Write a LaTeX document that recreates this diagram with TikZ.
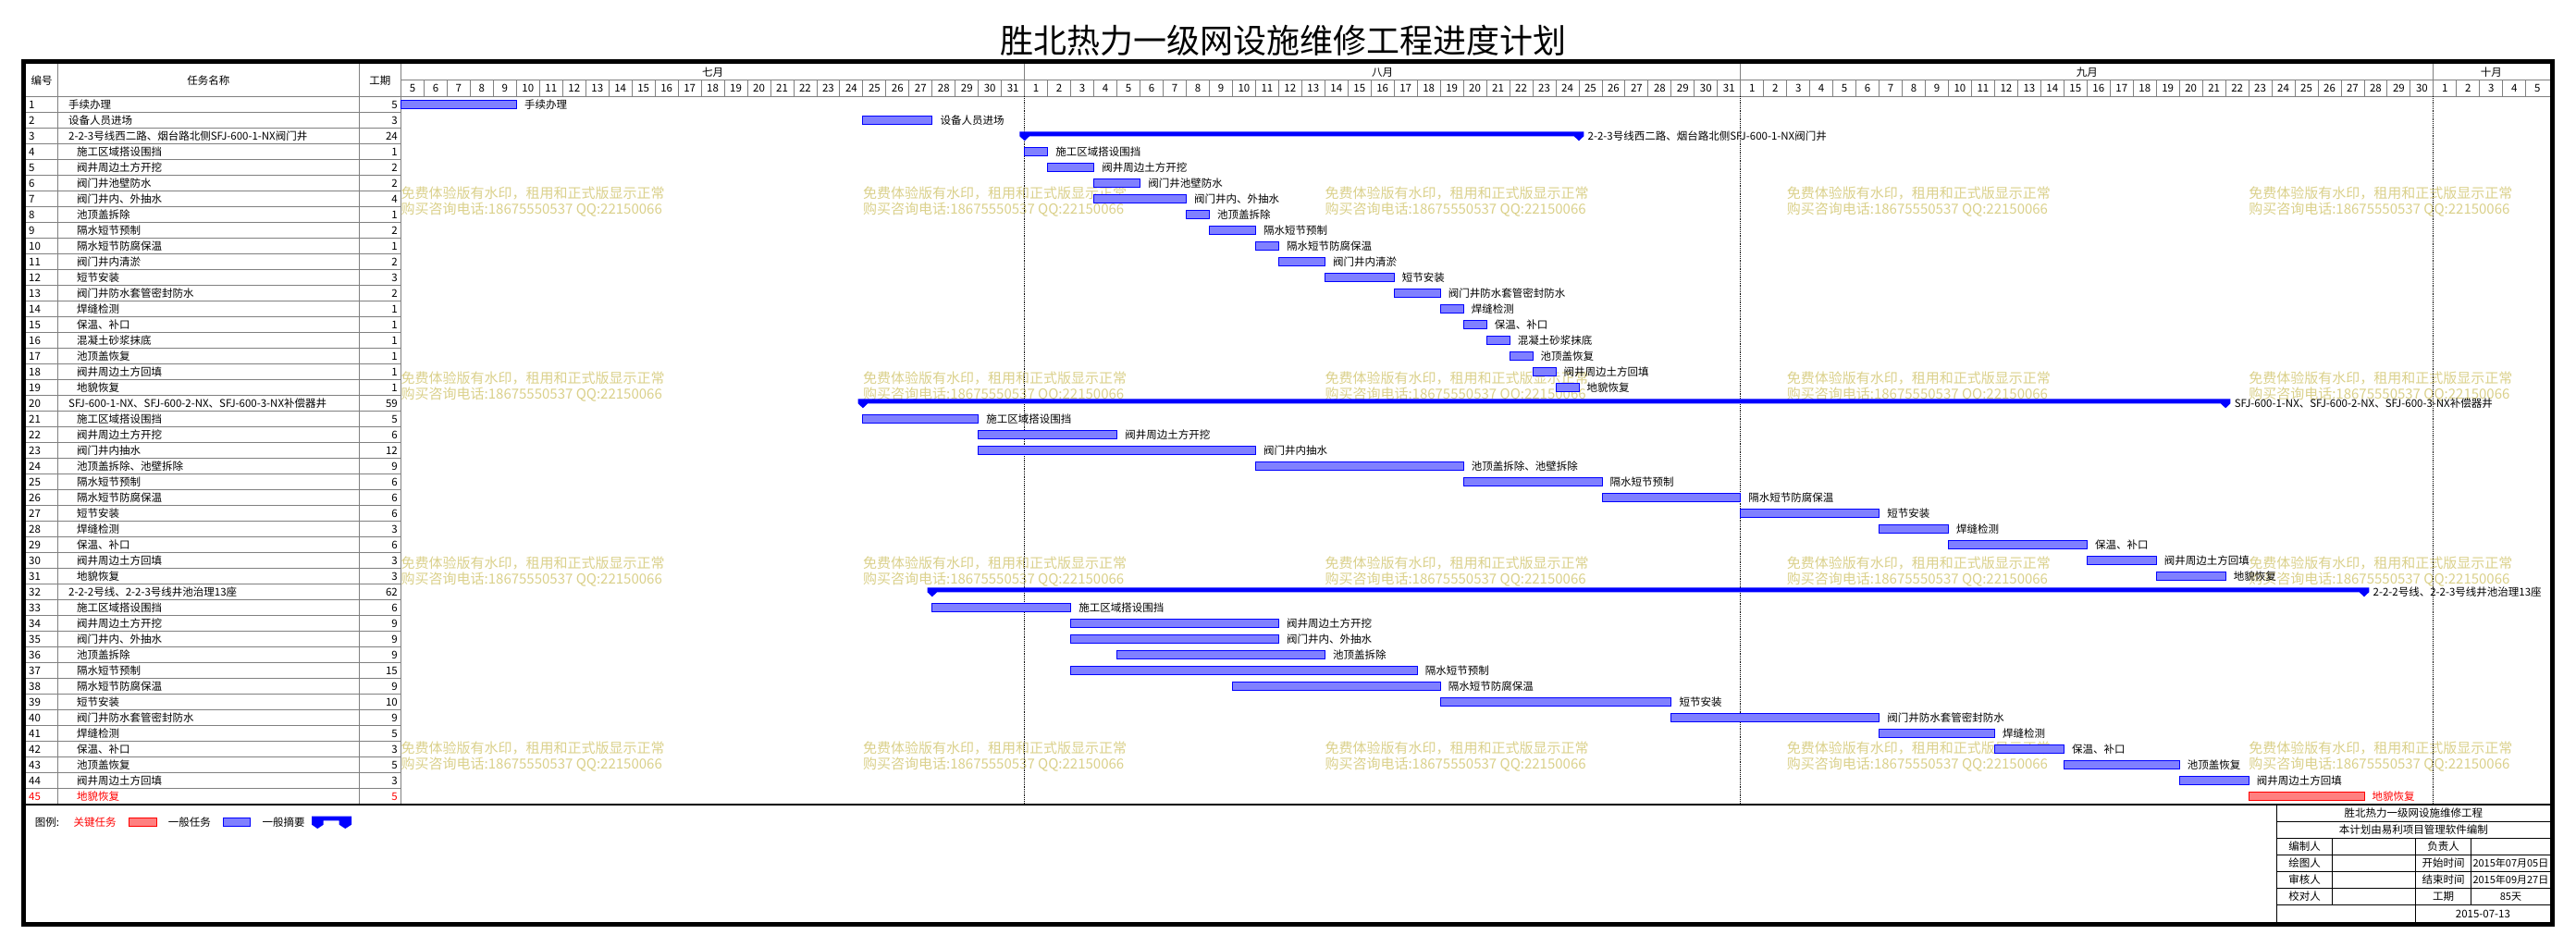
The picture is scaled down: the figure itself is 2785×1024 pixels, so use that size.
\documentclass[tikz,border=0pt]{standalone}
\usepackage{fontspec}
\setmainfont{Noto Sans CJK SC}

\definecolor{gridGray}{RGB}{128,128,128}
\definecolor{barBlue}{RGB}{128,128,255}
\definecolor{barRed}{RGB}{255,128,128}
\definecolor{markYellow}{RGB}{218,208,138}

\tikzset{
    txt/.style={inner sep=0pt, text height=9.5pt, text depth=0.8pt, font=\fontsize{11.5}{12}\selectfont},
    watermark/.style={inner sep=0pt, anchor=west, text height=12.5pt, text depth=1pt, text=markYellow, font=\fontsize{15}{16}\selectfont},
    gridline/.style={draw=gridGray, line width=0.9pt},
    taskbar/.style={draw=blue, fill=barBlue, line width=0.9pt},
    critbar/.style={draw=red, fill=barRed, line width=0.9pt},
    sumbar/.style={fill=blue},
    monthline/.style={draw=black, line width=0.8pt, densely dotted},
}

\begin{document}
\begin{tikzpicture}[x=1pt, y=-1pt]
    % Globals
    \pgfmathsetmacro{\xZero}{433.5}
    \pgfmathsetmacro{\dayW}{24.97}
    \pgfmathsetmacro{\yZero}{104.3}
    \pgfmathsetmacro{\rowH}{17}
    \pgfmathsetmacro{\yLegend}{869.8}
    \pgfmathsetmacro{\xRight}{2757}

    \useasboundingbox (0,0) rectangle (2785,1024);

    \coordinate (FRAME_NW) at (25.5,66.5);
    \coordinate (FRAME_SE) at (2759.5,999.3);

    \node[txt, text height=30pt, text depth=2.5pt, font=\fontsize{36}{40}\selectfont] (TITLE) at (1387,44) {胜北热力一级网设施维修工程进度计划};

    % watermarks
    \foreach \i in {0,...,4}{
        \foreach \j in {0,...,3}{
            \pgfmathsetmacro{\x}{\xZero+\i*499.4}
            \pgfmathsetmacro{\y}{208.3+\j*200}
            \node[watermark] (wmA\i\j) at (\x,\y) {免费体验版有水印，租用和正式版显示正常};
            \node[watermark] (wmB\i\j) at (\x,\y+17.4) {购买咨询电话:18675550537 QQ:22150066};
        }
    }

    % table grid
    \draw[gridline] (62.3,69) -- (62.3,\yLegend);
    \draw[gridline] (388.3,69) -- (388.3,\yLegend);
    \draw[gridline] (\xZero,69) -- (\xZero,\yLegend);
    \draw[gridline] (28,\yZero) -- (\xRight,\yZero);
    \draw[gridline] (\xZero,86.7) -- (\xRight,86.7);
    \foreach \r in {1,...,44}
        \draw[gridline] (28,\yZero+\r*\rowH) -- (\xZero,\yZero+\r*\rowH);

    \node[txt] (HEAD_NO) at (45.2,86.7) {编号};
    \node[txt] (HEAD_NAME) at (225.3,86.7) {任务名称};
    \node[txt] (HEAD_DUR) at (410.9,86.7) {工期};

    % days and months
    \foreach \k in {0,...,92}{
        \pgfmathtruncatemacro{\dd}{\k<27 ? \k+5 : (\k<58 ? \k-26 : (\k<88 ? \k-57 : \k-87))}
        \node[txt] (day\k) at (\xZero+\k*\dayW+0.5*\dayW,95.5) {\dd};
        \ifnum\k>0 \draw[gridline] (\xZero+\k*\dayW,86.7) -- (\xZero+\k*\dayW,\yZero); \fi
    }
    \foreach \k in {27,58,88}{
        \draw[gridline] (\xZero+\k*\dayW,69) -- (\xZero+\k*\dayW,86.7);
        \draw[monthline] (\xZero+\k*\dayW,\yZero) -- (\xZero+\k*\dayW,\yLegend);
    }
    \node[txt] (JUL) at (770.6,77.8) {七月};
    \node[txt] (AUG) at (1494.7,77.8) {八月};
    \node[txt] (SEP) at (2256.3,77.8) {九月};
    \node[txt] (OCT) at (2693.3,77.8) {十月};

    % tasks: number/name/duration/start/kind (0 sub, 1 top, 2 summary, 3 critical)
    \foreach \n/\name/\dur/\st/\kind in {
        1/手续办理/5/0/1,
        2/设备人员进场/3/20/1,
        3/2-2-3号线西二路、烟台路北侧SFJ-600-1-NX阀门井/24/27/2,
        4/施工区域搭设围挡/1/27/0,
        5/阀井周边土方开挖/2/28/0,
        6/阀门井池壁防水/2/30/0,
        7/阀门井内、外抽水/4/30/0,
        8/池顶盖拆除/1/34/0,
        9/隔水短节预制/2/35/0,
        10/隔水短节防腐保温/1/37/0,
        11/阀门井内清淤/2/38/0,
        12/短节安装/3/40/0,
        13/阀门井防水套管密封防水/2/43/0,
        14/焊缝检测/1/45/0,
        15/保温、补口/1/46/0,
        16/混凝土砂浆抹底/1/47/0,
        17/池顶盖恢复/1/48/0,
        18/阀井周边土方回填/1/49/0,
        19/地貌恢复/1/50/0,
        20/SFJ-600-1-NX、SFJ-600-2-NX、SFJ-600-3-NX补偿器井/59/20/2,
        21/施工区域搭设围挡/5/20/0,
        22/阀井周边土方开挖/6/25/0,
        23/阀门井内抽水/12/25/0,
        24/池顶盖拆除、池壁拆除/9/37/0,
        25/隔水短节预制/6/46/0,
        26/隔水短节防腐保温/6/52/0,
        27/短节安装/6/58/0,
        28/焊缝检测/3/64/0,
        29/保温、补口/6/67/0,
        30/阀井周边土方回填/3/73/0,
        31/地貌恢复/3/76/0,
        32/2-2-2号线、2-2-3号线井池治理13座/62/23/2,
        33/施工区域搭设围挡/6/23/0,
        34/阀井周边土方开挖/9/29/0,
        35/阀门井内、外抽水/9/29/0,
        36/池顶盖拆除/9/31/0,
        37/隔水短节预制/15/29/0,
        38/隔水短节防腐保温/9/36/0,
        39/短节安装/10/45/0,
        40/阀门井防水套管密封防水/9/55/0,
        41/焊缝检测/5/64/0,
        42/保温、补口/3/69/0,
        43/池顶盖恢复/5/72/0,
        44/阀井周边土方回填/3/77/0,
        45/地貌恢复/5/80/3}{
        \pgfmathsetmacro{\yT}{\yZero+(\n-1)*\rowH}
        \pgfmathsetmacro{\yM}{\yT+9}
        \pgfmathsetmacro{\xS}{\xZero+\st*\dayW}
        \pgfmathsetmacro{\xE}{\xZero+(\st+\dur)*\dayW}
        \ifnum\kind=3\relax \def\tc{red}\else \def\tc{black}\fi
        \ifnum\kind=1\relax \def\xN{74}\else\ifnum\kind=2\relax \def\xN{74}\else \def\xN{83}\fi\fi
        \node[txt, anchor=west, text=\tc] (num\n) at (31,\yM) {\n};
        \node[txt, anchor=west, text=\tc] (name\n) at (\xN,\yM) {\name};
        \node[txt, anchor=east, text=\tc] (dur\n) at (430,\yM) {\dur};
        \ifnum\kind=2\relax
            \fill[sumbar] (\xS-5.3,\yT+4) -- (\xE+5.3,\yT+4) -- (\xE+5.3,\yT+9) -- (\xE,\yT+14)
                -- (\xE-5.3,\yT+9) -- (\xS+5.3,\yT+9) -- (\xS,\yT+14) -- (\xS-5.3,\yT+9) -- cycle;
            \node[txt, anchor=west] (lbl\n) at (\xE+9.5,\yM) {\name};
        \else
            \ifnum\kind=3\relax
                \draw[critbar] (\xS,\yT+4) rectangle (\xE,\yT+13);
            \else
                \draw[taskbar] (\xS,\yT+4) rectangle (\xE,\yT+13);
            \fi
            \node[txt, anchor=west, text=\tc] (lbl\n) at (\xE+8.5,\yM) {\name};
        \fi
    }

    % legend
    \draw[line width=1.5pt] (28,\yLegend) -- (\xRight,\yLegend);
    \node[txt, anchor=west] (LEG_TITLE) at (37.7,889) {图例:};
    \node[txt, anchor=west, text=red] (LEG_CRIT) at (79.3,889) {关键任务};
    \draw[critbar] (139,884.3) rectangle (169,893.3);
    \node[txt, anchor=west] (LEG_TASK) at (181.7,889) {一般任务};
    \draw[taskbar] (241,884.3) rectangle (270.7,893.3);
    \node[txt, anchor=west] (LEG_SUM) at (283.3,889) {一般摘要};
    \fill[sumbar] (337,882.7) -- (380,882.7) -- (380,891.7) -- (373.3,896) -- (366.7,891.7) -- (366.7,887.3)
        -- (349.7,887.3) -- (349.7,891.7) -- (343.3,896) -- (337,891.7) -- cycle;

    % title block
    \pgfmathsetmacro{\tbL}{2461.7}
    \pgfmathsetmacro{\tbA}{2521.7}
    \pgfmathsetmacro{\tbB}{2611.7}
    \pgfmathsetmacro{\tbC}{2671.7}
    \draw[line width=1pt] (\tbL,\yLegend) -- (\tbL,997);
    \foreach \k in {1,...,6}
        \draw[line width=1pt] (\tbL,870+\k*18.1) -- (\xRight,870+\k*18.1);
    \draw[line width=1pt] (\tbA,906.2) -- (\tbA,978.6);
    \draw[line width=1pt] (\tbB,906.2) -- (\tbB,997);
    \draw[line width=1pt] (\tbC,906.2) -- (\tbC,978.6);

    \node[txt] (TB_NAME) at (2609.4,879) {胜北热力一级网设施维修工程};
    \node[txt] (TB_SOFT) at (2609.4,897.2) {本计划由易利项目管理软件编制};
    \foreach \k/\lA/\lB/\lC in {0/编制人/负责人/{}, 1/绘图人/开始时间/2015年07月05日, 2/审核人/结束时间/2015年09月27日, 3/校对人/工期/85天}{
        \pgfmathsetmacro{\y}{915.3+\k*18.1}
        \node[txt] (tbA\k) at (2491.7,\y) {\lA};
        \node[txt] (tbB\k) at (2641.7,\y) {\lB};
        \node[txt, font=\fontsize{11}{12}\selectfont] (tbC\k) at (2714.4,\y) {\lC};
    }
    \node[txt] (TB_DATE) at (2684.4,987.7) {2015-07-13};

    % frame
    \draw[line width=5pt] (FRAME_NW) rectangle (FRAME_SE);

\end{tikzpicture}
\end{document}
